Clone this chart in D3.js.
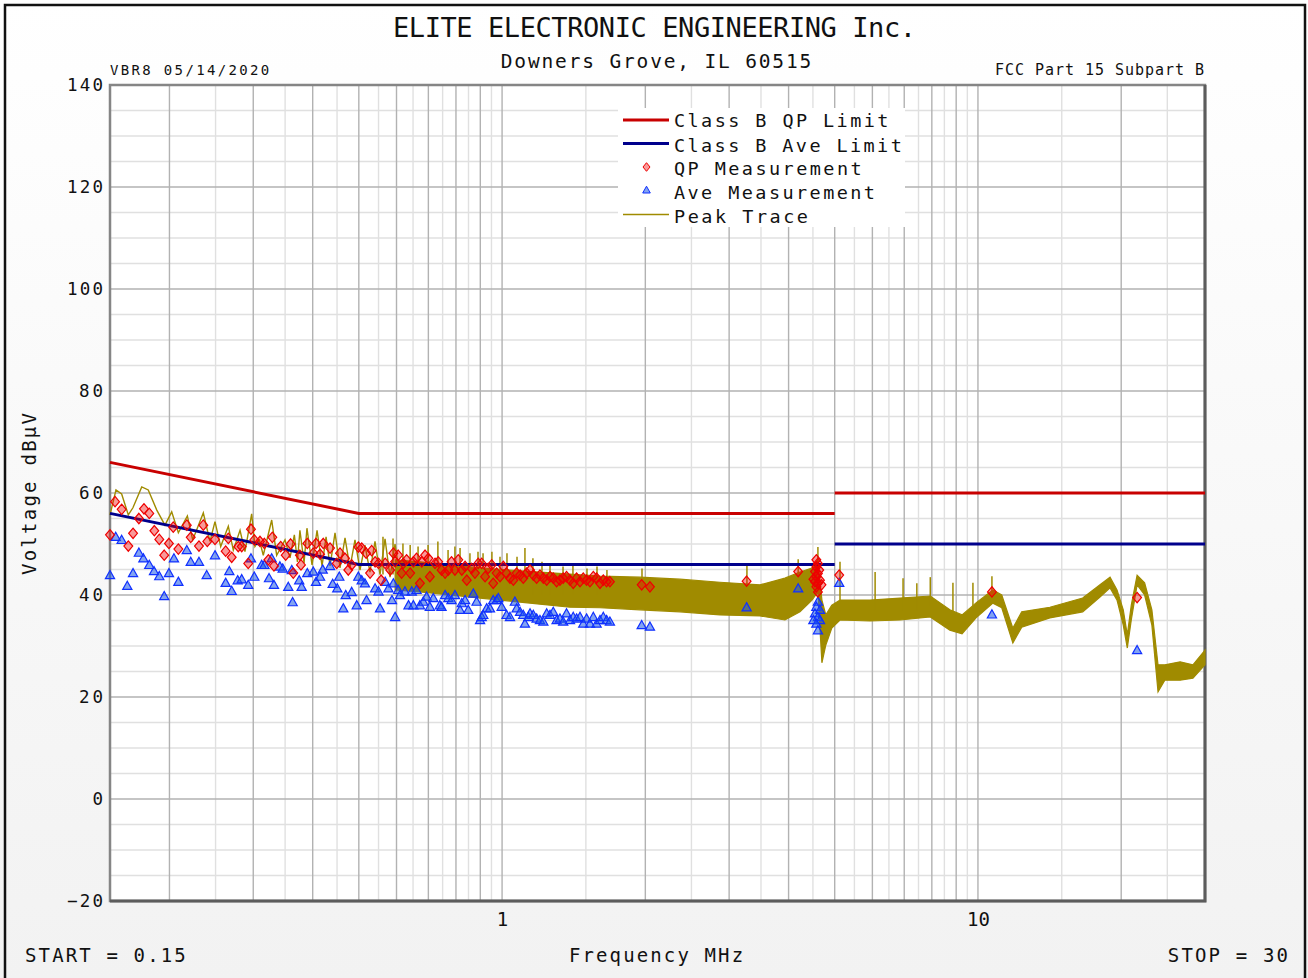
<!DOCTYPE html>
<html>
<head>
<meta charset="utf-8">
<script src="https://cdn.jsdelivr.net/npm/d3@7"></script>
<style>
  body { margin: 0; background: #fff; }
  svg text { font-family: "DejaVu Sans Mono", monospace; fill: #111; }
</style>
</head>
<body>
<div id="chart"></div>
<script>
// ================================================
// Data (frequency MHz, level dBuV)
// ================================================
const yTicks = [-20, 0, 20, 40, 60, 80, 100, 120, 140];
const xTicks = [1, 10];
const gridMajorF = [0.2, 0.3, 0.4, 0.5, 0.6, 0.7, 0.8, 0.9, 1, 2, 3, 4, 5, 6, 7, 8, 9, 10, 20];
const gridMinorF = [0.25, 0.35, 0.45, 0.55, 0.65, 0.75, 0.85, 0.95, 1.5, 2.5, 3.5, 4.5, 5.5, 6.5, 7.5, 8.5, 9.5, 15, 25];
const gridMajorV = [0, 20, 40, 60, 80, 100, 120];
const gridMinorV = [-15, -10, -5, 5, 10, 15, 25, 30, 35, 45, 50, 55, 65, 70, 75, 85, 90, 95, 105, 110, 115, 125, 130, 135];

// limits are drawn as separate pieces (no vertical joint at 5 MHz)
const qpLimit = [[[0.15, 66], [0.5, 56], [5, 56]], [[5, 60], [30, 60]]];
const aveLimit = [[[0.15, 56], [0.5, 46], [5, 46]], [[5, 50], [30, 50]]];

// peak trace, low band: resolved harmonic peaks
const peakLine = [[0.150,55.7],[0.1544,60.6],[0.1587,59.8],[0.1639,55.7],[0.1676,57.1],[0.1749,61.2],[0.1805,60.6],
  [0.188,56.7],[0.1957,53.7],[0.2022,56.3],[0.2088,52.2],[0.2181,55.5],[0.2238,50.8],[0.2356,56.1],[0.2433,50.5],
  [0.2493,54.4],[0.2563,49.5],[0.2659,53.5],[0.2724,48.8],[0.2814,52.7],[0.2882,48.5],[0.2977,55.9],[0.3025,49.5],
  [0.309,50.8],[0.3149,47.8],[0.328,54.7],[0.336,47.8],[0.3498,50.8],[0.3584,47.3],[0.366,51.8],[0.3715,46.5],
  [0.376,52.7],[0.3836,46.3],[0.389,53.1],[0.3987,45.9],[0.4085,52.7],[0.4185,45.7],[0.4267,51.4],[0.435,45.7],
  [0.4456,52.2],[0.4565,45.3],[0.4677,51.2],[0.479,45.3],[0.4908,50.8],[0.5028,44.9],[0.515,49.8],[0.5277,44.5],
  [0.5407,50.5],[0.554,44.0],[0.5676,51.0],[0.5815,43.5],[0.5957,50.0],[0.61,43.5]];

// peak trace, dense part: lower / upper edge of the noise band
const bandF  = [0.596,0.672,0.777,0.899,1.039,1.201,1.389,1.606,1.949,2.365,2.87,3.483,3.93,4.227,4.48,4.61,4.70,4.79,4.93,
  5.13,5.93,6.86,7.94,8.73,9.26,9.95,10.75,11.22,11.84,12.36,14.16,16.6,18.05,18.95,19.6,20.2,20.6,21.0,21.6,22.4,23.2,
  23.9,24.7,26.6,28.3,30];
const bandLo = [41.0,40.6,40.0,39.4,38.8,38.2,37.6,37.5,37.1,36.7,36.1,35.9,35.1,36.7,39.0,40.6,26.7,30.2,33.5,
  35.1,34.9,35.1,35.7,33.1,32.4,35.7,38.4,37.5,30.6,33.7,35.5,36.7,39.6,41.4,39.0,34.1,29.6,35.1,42.0,40.0,34.1,
  21.0,23.3,23.3,23.7,26.3];
const bandHi = [46.9,46.5,45.9,45.3,44.9,44.5,44.1,43.7,43.5,43.1,42.5,42.0,43.3,44.5,45.3,46.9,39.0,36.1,38.0,
  39.0,39.0,39.4,39.8,37.1,36.1,38.6,41.0,40.0,33.5,36.7,37.6,39.4,42.0,43.5,41.0,37.1,32.2,38.0,43.9,42.4,37.1,
  26.3,26.3,26.9,26.3,29.2];

// isolated spikes of the peak trace: [freq, top, bottom]
const spikes = [[0.562,51.4,44],[0.590,51.1,44],[0.619,50.1,44],[0.641,49.8,43],[0.666,49.5,43],[0.699,49.8,43],
  [0.733,50.5,43],[0.770,48.8,42],[0.796,49.5,42],[0.816,49.2,42],[0.856,48.2,42],[0.890,48.5,42],[0.912,48.2,42],
  [0.952,48.5,41],[0.990,47.5,41],[1.024,48.2,41],[1.075,47.5,41],[1.117,49.2,41],[1.161,47.2,40],[1.213,46.5,40],
  [1.261,46.2,40],[1.343,45.6,40],[1.409,45.9,40],[1.508,45.2,40],[1.583,45.6,40],[1.661,44.9,40],[1.968,45.2,40],
  [3.27,45.9,40],[4.19,47.0,41],[4.61,49.4,42],[5.13,46.5,37],[6.08,44.5,37],[6.96,43.3,37],[7.44,42.3,37],
  [7.94,43.5,38],[8.86,42.4,35],[9.76,42.4,37],[10.7,43.7,39]];

const qpPoints = [[0.150,51.8],[0.1537,58.3],[0.1587,56.8],[0.1639,49.6],[0.1677,52.1],[0.1725,55.0],[0.1768,56.9],
  [0.1814,56.0],[0.1859,52.6],[0.1904,50.9],[0.195,47.8],[0.1995,50.1],[0.2037,53.3],[0.2088,49.0],[0.2175,53.7],
  [0.2217,51.3],[0.2307,49.6],[0.2356,53.7],[0.2402,50.5],[0.2493,50.9],[0.2625,48.6],[0.2659,51.1],[0.2703,47.4],
  [0.279,49.5],[0.2837,49.5],[0.2928,46.2],[0.2967,52.9],[0.3015,50.8],[0.3099,50.5],[0.3166,50.1],[0.3228,46.9],
  [0.329,51.3],[0.3316,45.7],[0.3426,49.5],[0.351,47.8],[0.3595,50.0],[0.3641,44.3],[0.376,47.8],[0.3779,45.9],
  [0.3897,50.1],[0.4011,48.2],[0.4065,50.1],[0.4145,48.0],[0.421,50.1],[0.435,49.2],[0.4493,46.2],[0.4565,48.2],
  [0.4677,47.2],[0.4751,44.9],[0.483,45.9],[0.4988,49.4],[0.528,44.3],
  [0.507,49.2],[0.518,48.2],[0.532,48.7],[0.541,46.5],[0.550,46.2],[0.557,42.9],[0.568,46.2],[0.582,44.9],[0.591,48.2],
  [0.596,46.5],[0.605,47.8],[0.615,44.3],[0.620,46.2],[0.630,46.9],[0.641,44.3],[0.651,46.5],[0.661,47.2],[0.672,42.3],
  [0.678,46.5],[0.689,47.8],[0.700,47.2],[0.705,43.6],[0.723,46.2],[0.734,46.5],[0.746,44.9],[0.759,44.3],[0.771,44.9],
  [0.783,46.5],[0.796,44.9],[0.809,46.9],[0.823,44.9],[0.836,45.6],[0.843,42.9],[0.863,45.2],[0.877,44.3],[0.891,46.2],
  [0.906,46.2],[0.921,43.6],[0.935,45.2],[0.951,45.9],[0.958,42.3],[0.974,44.3],[0.990,43.6],[1.006,45.6],[1.022,44.3],
  [1.039,43.3],[1.056,42.9],[1.073,44.3],[1.091,43.9],[1.108,43.3],[1.126,44.3],[1.145,44.9],[1.163,43.9],[1.182,43.3],
  [1.201,43.9],[1.221,43.3],[1.241,42.9],[1.261,43.6],[1.281,43.3],[1.302,42.6],[1.323,42.9],[1.344,43.3],[1.366,43.6],
  [1.389,42.9],[1.411,42.3],[1.434,43.3],[1.458,42.6],[1.481,43.3],[1.505,42.9],[1.530,42.6],[1.555,43.6],[1.580,43.3],
  [1.606,42.3],[1.632,42.9],[1.658,42.6],[1.685,42.6],[1.965,42.0],[2.045,41.6],
  [3.265,42.7],[4.19,44.6],[4.575,46.9],[4.61,46.2],[4.575,45.5],[4.64,44.9],[4.545,44.6],[4.61,44.2],[4.575,43.6],
  [4.51,43.1],[4.656,42.9],[4.545,42.6],[4.61,42.3],[4.69,42.0],[4.575,41.6],[4.61,40.6],[5.11,43.9],[10.7,40.6],[21.6,39.5]];

const avePoints = [[0.150,43.9],[0.1542,51.4],[0.1587,50.8],[0.1631,41.8],[0.1677,44.3],[0.1725,48.3],[0.1763,47.2],
  [0.1814,45.9],[0.1856,44.7],[0.1904,43.7],[0.195,39.8],[0.1995,44.3],[0.2044,47.2],[0.2088,42.6],[0.2175,48.8],
  [0.2217,46.5],[0.2307,46.5],[0.2395,43.9],[0.2493,47.8],[0.2625,42.4],[0.2672,44.7],[0.2703,40.8],[0.2782,42.9],
  [0.2837,43.1],[0.2928,42.0],[0.2967,47.2],[0.3015,43.6],[0.3125,45.9],[0.3166,45.9],[0.3238,43.3],[0.328,47.2],
  [0.3316,42.0],[0.3413,45.6],[0.3459,45.2],[0.3554,41.6],[0.363,38.6],[0.3614,44.9],[0.3747,42.9],[0.3792,41.6],
  [0.3897,44.3],[0.4011,44.6],[0.4065,42.6],[0.4145,43.6],[0.4198,45.0],[0.435,45.7],[0.4406,42.2],[0.4505,41.3],
  [0.4549,43.6],[0.4638,37.4],[0.4692,40.0],[0.483,40.6],[0.495,38.0],[0.4988,43.6],
  [0.507,42.9],[0.515,42.3],[0.519,39.0],[0.541,41.3],[0.550,40.7],[0.554,37.4],[0.568,42.6],[0.577,41.3],[0.587,39.0],
  [0.591,42.3],[0.596,35.7],[0.605,41.0],[0.610,40.0],[0.625,40.7],[0.636,38.0],[0.646,40.7],[0.651,38.0],[0.661,41.0],
  [0.672,38.0],[0.683,38.7],[0.694,39.7],[0.705,37.7],[0.717,39.4],[0.740,38.0],[0.746,37.7],[0.759,40.0],[0.771,39.4],
  [0.783,39.0],[0.796,40.0],[0.816,37.1],[0.823,38.4],[0.836,39.0],[0.849,37.1],[0.870,40.3],[0.884,38.7],[0.899,35.1],
  [0.906,35.7],[0.913,36.1],[0.928,37.4],[0.943,37.4],[0.958,39.0],[0.974,39.0],[0.982,39.4],[0.998,37.7],[1.022,36.1],
  [1.039,35.7],[1.064,38.7],[1.073,37.4],[1.091,36.7],[1.108,36.1],[1.117,34.4],[1.136,35.7],[1.145,36.4],[1.163,36.1],
  [1.182,35.4],[1.201,35.1],[1.221,34.8],[1.241,36.4],[1.261,36.1],[1.281,36.7],[1.302,35.1],[1.323,35.4],[1.344,34.8],
  [1.366,36.4],[1.389,35.1],[1.411,35.7],[1.434,35.4],[1.458,35.7],[1.481,34.4],[1.505,35.4],[1.530,34.4],[1.555,35.7],
  [1.580,34.4],[1.606,35.1],[1.632,35.7],[1.658,35.1],[1.685,34.8],[1.965,34.1],[2.045,33.8],
  [3.265,37.6],[4.19,41.3],[4.61,38.7],[4.575,37.7],[4.656,37.1],[4.545,36.4],[4.61,35.7],[4.51,35.1],[4.656,35.1],
  [4.575,34.4],[4.61,33.1],[5.11,42.4],[10.7,36.2],[21.6,29.2]];

const legendItems = ["Class B QP Limit", "Class B Ave Limit", "QP Measurement", "Ave Measurement", "Peak Trace"];

// ================================================
// Setup
// ================================================
const width = 1308, height = 978;
const margin = {left: 110, right: 103, top: 85, bottom: 77};

const OLIVE = "#a08b00";
const QP_RED = "#c80000";
const AVE_BLUE = "#00008c";

const xscale = d3.scaleLog()
  .domain([0.15, 30])
  .range([margin.left, width - margin.right]);

const yscale = d3.scaleLinear()
  .domain([-20, 140])
  .range([height - margin.bottom, margin.top]);

const svg = d3.select("#chart").append("svg")
  .attr("width", width)
  .attr("height", height);

// page background, slightly grey towards the bottom
const grad = svg.append("defs").append("linearGradient")
  .attr("id", "bg").attr("x1", 0).attr("y1", 0).attr("x2", 0).attr("y2", 1);
grad.append("stop").attr("offset", "0%").attr("stop-color", "#ffffff");
grad.append("stop").attr("offset", "100%").attr("stop-color", "#f2f2f2");
svg.append("rect").attr("width", width).attr("height", height).attr("fill", "url(#bg)");
svg.append("rect")
  .attr("x", 5).attr("y", 5).attr("width", 1300).attr("height", 1000)
  .attr("fill", "none").attr("stroke", "#111").attr("stroke-width", 2.5);

// plot area
const x0 = xscale.range()[0], x1 = xscale.range()[1];
const y0 = yscale.range()[1], y1 = yscale.range()[0];
svg.append("rect")
  .attr("x", x0).attr("y", y0).attr("width", x1 - x0).attr("height", y1 - y0)
  .attr("fill", "#fff");

// ============================
// Grid
// ============================
const grid = svg.append("g");
function vLines(vals, color) {
  grid.append("g").selectAll("line").data(vals).join("line")
    .attr("x1", d => xscale(d)).attr("x2", d => xscale(d))
    .attr("y1", y0).attr("y2", y1)
    .attr("stroke", color).attr("stroke-width", 1.4);
}
function hLines(vals, color) {
  grid.append("g").selectAll("line").data(vals).join("line")
    .attr("x1", x0).attr("x2", x1)
    .attr("y1", d => yscale(d)).attr("y2", d => yscale(d))
    .attr("stroke", color).attr("stroke-width", 1.4);
}
vLines(gridMinorF, "#e0e0e0");
hLines(gridMinorV, "#e0e0e0");
vLines(gridMajorF, "#b2b2b2");
hLines(gridMajorV, "#b2b2b2");

// frame: lighter top/left, darker right/bottom
svg.append("rect")
  .attr("x", x0).attr("y", y0).attr("width", x1 - x0).attr("height", y1 - y0)
  .attr("fill", "none").attr("stroke", "#858585").attr("stroke-width", 2.5);
svg.append("path")
  .attr("d", `M${x1},${y0} L${x1},${y1} L${x0},${y1}`)
  .attr("fill", "none").attr("stroke", "#5c5c5c").attr("stroke-width", 3);

// ============================
// Axes (labels only)
// ============================
const yAxis = svg.append("g")
  .attr("transform", `translate(${x0},0)`)
  .call(d3.axisLeft(yscale).tickValues(yTicks).tickSize(0).tickPadding(7));
yAxis.select(".domain").remove();
yAxis.selectAll("text")
  .attr("font-size", 17.5)
  .attr("textLength", d => String(d).length * 12)
  .attr("lengthAdjust", "spacing");

const xAxis = svg.append("g")
  .attr("transform", `translate(0,${y1})`)
  .call(d3.axisBottom(xscale).tickValues(xTicks).tickFormat(d3.format("d")).tickSize(0).tickPadding(12));
xAxis.select(".domain").remove();
xAxis.selectAll("text").attr("font-size", 19);

svg.selectAll(".tick text").attr("fill", "#111").style("font-family", '"DejaVu Sans Mono", monospace');

function label(x, y, s, size, charW, anchor) {
  return svg.append("text")
    .attr("x", x).attr("y", y)
    .attr("font-size", size)
    .attr("text-anchor", anchor || "start")
    .attr("textLength", s.length * charW)
    .attr("lengthAdjust", "spacing")
    .text(s);
}

label(654.5, 37, "ELITE ELECTRONIC ENGINEERING Inc.", 27, 15.85, "middle");
label(656, 67.5, "Downers Grove, IL 60515", 19.5, 13.5, "middle");
label(110, 75, "VBR8  05/14/2020", 14, 9.95);
label(1204, 74.5, "FCC Part 15 Subpart B", 15, 9.95, "end");
label(25, 962, "START = 0.15", 19, 13.4);
label(656, 962, "Frequency MHz", 19, 13.4, "middle");
label(1288, 962, "STOP = 30", 19, 13.35, "end");

svg.append("text")
  .attr("transform", "translate(36,494) rotate(-90)")
  .attr("font-size", 19)
  .attr("text-anchor", "middle")
  .attr("textLength", 162)
  .attr("lengthAdjust", "spacing")
  .text("Voltage dBµV");

// ============================
// Peak trace
// ============================
const line = d3.line()
  .x(d => xscale(d[0]))
  .y(d => yscale(d[1]));

const band = d3.area()
  .x((d, i) => xscale(bandF[i]))
  .y0((d, i) => yscale(bandLo[i]))
  .y1((d, i) => yscale(bandHi[i]));

const trace = svg.append("g");
trace.append("path")
  .attr("d", band(bandF))
  .attr("fill", OLIVE).attr("stroke", OLIVE).attr("stroke-width", 1.2);
trace.append("path")
  .attr("d", line(peakLine))
  .attr("fill", "none").attr("stroke", OLIVE).attr("stroke-width", 1.4);
trace.selectAll(".spike").data(spikes).join("line")
  .attr("class", "spike")
  .attr("x1", d => xscale(d[0])).attr("x2", d => xscale(d[0]))
  .attr("y1", d => yscale(d[1])).attr("y2", d => yscale(d[2]))
  .attr("stroke", OLIVE).attr("stroke-width", 1.5);

// ============================
// Limits
// ============================
svg.append("g").selectAll("path").data(qpLimit).join("path")
  .attr("d", line).attr("fill", "none")
  .attr("stroke", QP_RED).attr("stroke-width", 3);
svg.append("g").selectAll("path").data(aveLimit).join("path")
  .attr("d", line).attr("fill", "none")
  .attr("stroke", AVE_BLUE).attr("stroke-width", 3);

// ============================
// Measurements
// ============================
const triPath = "M0,-4.6 L4.6,3.6 L-4.6,3.6 Z";
const diaPath = "M0,-5.2 L4.4,0 L0,5.2 L-4.4,0 Z";

svg.append("g").selectAll("path").data(avePoints).join("path")
  .attr("d", triPath)
  .attr("transform", d => `translate(${xscale(d[0])},${yscale(d[1])})`)
  .attr("fill", "rgba(30,90,230,0.55)")
  .attr("stroke", "#1030ff").attr("stroke-width", 1.2);

svg.append("g").selectAll("path").data(qpPoints).join("path")
  .attr("d", diaPath)
  .attr("transform", d => `translate(${xscale(d[0])},${yscale(d[1])})`)
  .attr("fill", "rgba(240,0,0,0.4)")
  .attr("stroke", "#ee0000").attr("stroke-width", 1.2);

// ============================
// Legend
// ============================
const legend = svg.append("g");
legend.append("rect")
  .attr("x", 618).attr("y", 108).attr("width", 287).attr("height", 119)
  .attr("fill", "#fff");
const rowY = [120, 143.5, 167, 190, 214.5];
const baseY = [127.3, 151.7, 175.3, 198.6, 222.7];
legend.append("line").attr("x1", 623).attr("x2", 669).attr("y1", rowY[0]).attr("y2", rowY[0])
  .attr("stroke", QP_RED).attr("stroke-width", 3);
legend.append("line").attr("x1", 623).attr("x2", 669).attr("y1", rowY[1]).attr("y2", rowY[1])
  .attr("stroke", AVE_BLUE).attr("stroke-width", 3);
legend.append("path").attr("d", "M0,-4.3 L3.5,0 L0,4.3 L-3.5,0 Z")
  .attr("transform", `translate(646.5,${rowY[2]})`)
  .attr("fill", "rgba(240,0,0,0.4)").attr("stroke", "#ee0000").attr("stroke-width", 1);
legend.append("path").attr("d", "M0,-3.8 L3.8,3 L-3.8,3 Z")
  .attr("transform", `translate(646.5,${rowY[3]})`)
  .attr("fill", "rgba(30,90,230,0.55)").attr("stroke", "#1030ff").attr("stroke-width", 1);
legend.append("line").attr("x1", 623).attr("x2", 669).attr("y1", rowY[4]).attr("y2", rowY[4])
  .attr("stroke", OLIVE).attr("stroke-width", 1.5);
legendItems.forEach((s, i) => label(674, baseY[i], s, 18.5, 13.4));
</script>
</body>
</html>
